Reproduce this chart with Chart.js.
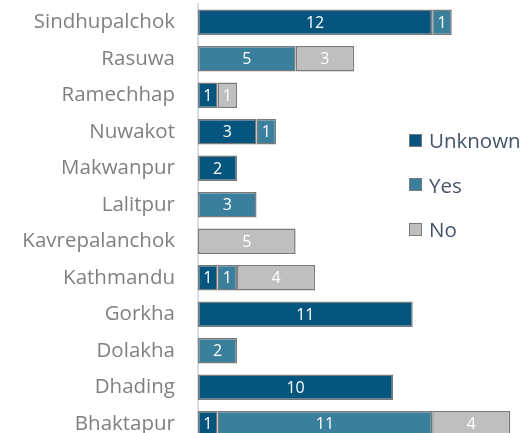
<!DOCTYPE html>
<html>
<head>
<meta charset="utf-8">
<script src="https://cdn.jsdelivr.net/npm/chart.js@4/dist/chart.umd.min.js"></script>
<style>
  html, body { margin: 0; padding: 0; background: #fff; overflow: hidden; }
  #wrap { position: relative; width: 523px; height: 433px; overflow: hidden; }
  #legend { position: absolute; left: 409px; top: 128px; font-family: "Open Sans", sans-serif; font-size: 20.5px; color: #44546A; }
  #legend .item { display: flex; align-items: center; height: 24px; margin-bottom: 20.5px; white-space: nowrap; }
  #legend .box { width: 11px; height: 11px; border: 1.5px solid #7A7A7A; margin-right: 7px; flex: none; }
</style>
</head>
<body>
<div id="wrap">
  <canvas id="chart" width="523" height="442"></canvas>
  <div id="legend"></div>
</div>
<script>
// districts, top to bottom
const districts = ['Sindhupalchok', 'Rasuwa', 'Ramechhap', 'Nuwakot', 'Makwanpur', 'Lalitpur',
  'Kavrepalanchok', 'Kathmandu', 'Gorkha', 'Dolakha', 'Dhading', 'Bhaktapur'];

const unknownCounts = [12, 0, 1, 3, 2, 0, 0, 1, 11, 0, 10, 1];
const yesCounts     = [1, 5, 0, 1, 0, 3, 0, 1, 0, 2, 0, 11];
const noCounts      = [0, 3, 1, 0, 0, 0, 5, 4, 0, 0, 0, 4];

const seriesNames  = ['Unknown', 'Yes', 'No'];
const seriesColors = ['#05557F', '#3A7F9B', '#BFBFBF'];
const edgeColor = '#7A7A7A';

const datasets = [unknownCounts, yesCounts, noCounts].map((vals, i) => ({
  label: seriesNames[i],
  data: vals,
  backgroundColor: seriesColors[i],
  borderColor: edgeColor,
  borderWidth: 1.5,
  borderSkipped: false,
  barPercentage: 1,
  categoryPercentage: 0.7
}));

// white count in the middle of every segment
const segmentLabels = {
  id: 'segmentLabels',
  afterDatasetsDraw(chart) {
    const ctx = chart.ctx;
    ctx.save();
    ctx.fillStyle = '#FFFFFF';
    ctx.font = '16px "Open Sans", sans-serif';
    ctx.textAlign = 'center';
    ctx.textBaseline = 'middle';
    chart.data.datasets.forEach((ds, di) => {
      chart.getDatasetMeta(di).data.forEach((bar, i) => {
        const v = ds.data[i];
        if (!v) return;
        ctx.fillText(String(v), (bar.x + bar.base) / 2, bar.y + 1);
      });
    });
    ctx.restore();
  }
};

new Chart(document.getElementById('chart'), {
  type: 'bar',
  data: { labels: districts, datasets: datasets },
  options: {
    indexAxis: 'y',
    responsive: false,
    animation: false,
    layout: { padding: { top: 4, right: 0, bottom: 0, left: 0 } },
    plugins: {
      legend: { display: false },
      tooltip: { enabled: false }
    },
    scales: {
      x: {
        stacked: true,
        display: false,
        min: 0,
        max: 16.65
      },
      y: {
        stacked: true,
        grid: { display: false, drawTicks: false },
        border: { display: true, color: '#D9DEE5', width: 2 },
        ticks: {
          padding: 23,
          color: '#808080',
          font: { family: '"Open Sans", sans-serif', size: 20.5 }
        },
        afterFit: (scale) => {
          scale.width = 198;
          // labels shouldn't push the plot area in from top/bottom
          scale.paddingTop = 0;
          scale.paddingBottom = 0;
        }
      }
    }
  },
  plugins: [segmentLabels]
});

// legend on the right
const legend = document.getElementById('legend');
seriesNames.forEach((name, i) => {
  const item = document.createElement('div');
  item.className = 'item';
  const box = document.createElement('span');
  box.className = 'box';
  box.style.background = seriesColors[i];
  const txt = document.createElement('span');
  txt.textContent = name;
  item.appendChild(box);
  item.appendChild(txt);
  legend.appendChild(item);
});
</script>
</body>
</html>
